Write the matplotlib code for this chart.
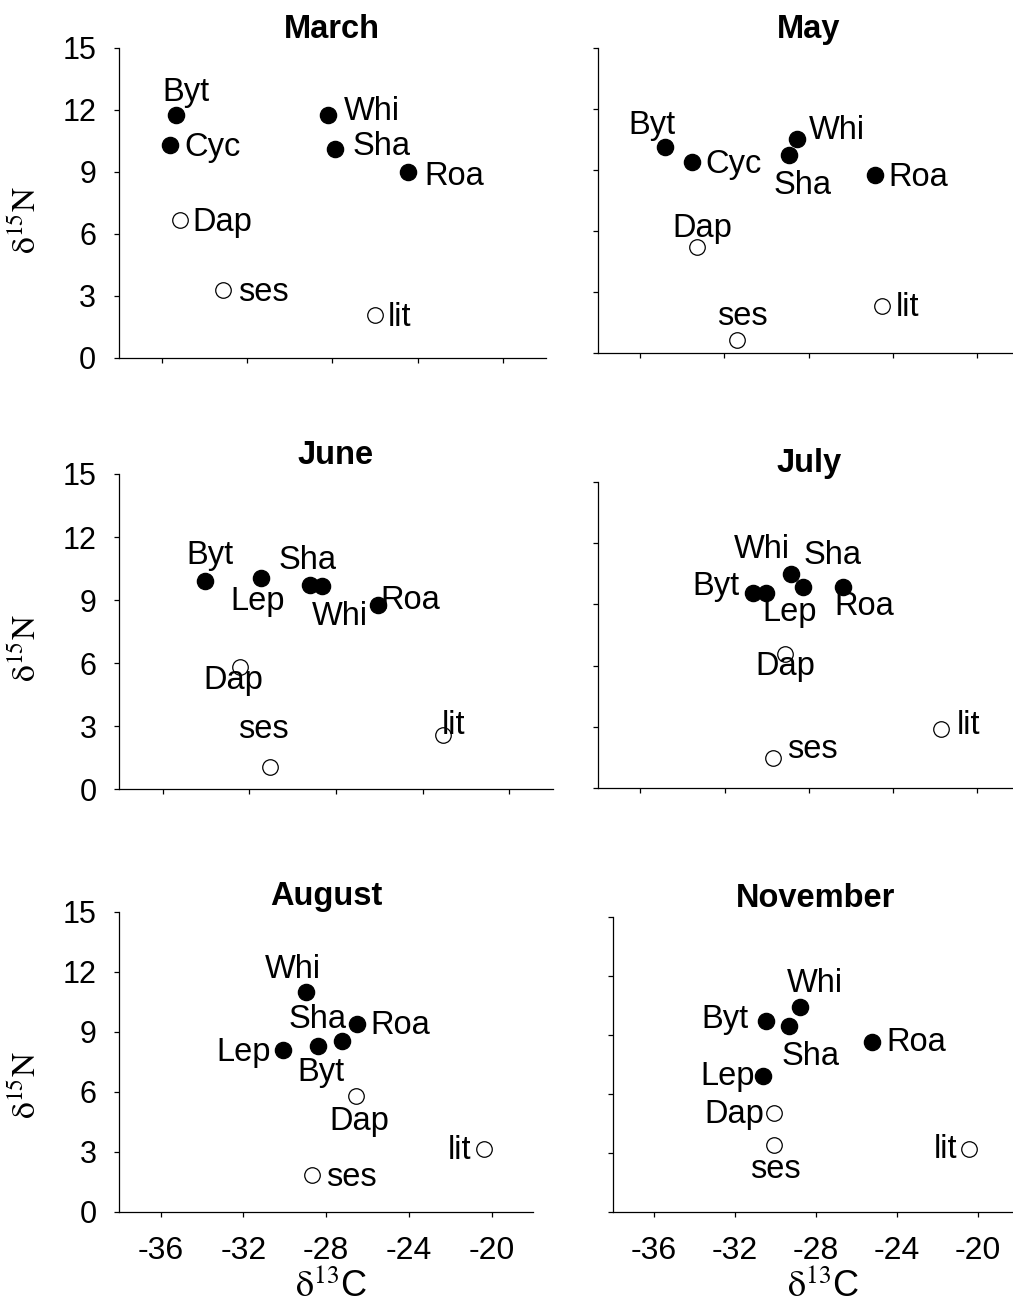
import matplotlib
matplotlib.use("Agg")
import matplotlib.pyplot as plt

plt.rcParams['font.family'] = ['Liberation Sans', 'DejaVu Sans']
plt.rcParams['mathtext.fontset'] = 'stix'
plt.rcParams['axes.unicode_minus'] = False

# open symbols = basal resources, filled = consumers
open_species = ["Dap", "ses", "lit"]

march_sp = ["Byt", "Cyc", "Whi", "Sha", "Roa", "Dap", "ses", "lit"]
march_c = [-35.34, -35.60, -28.19, -27.86, -24.47, -35.16, -33.13, -26.00]
march_n = [11.77, 10.32, 11.74, 10.08, 9.00, 6.67, 3.28, 2.08]

may_sp = ["Byt", "Cyc", "Whi", "Sha", "Roa", "Dap", "ses", "lit"]
may_c = [-34.81, -33.52, -28.53, -28.95, -24.85, -33.28, -31.38, -24.52]
may_n = [10.13, 9.41, 10.54, 9.75, 8.77, 5.23, 0.65, 2.33]

june_sp = ["Byt", "Lep", "Sha", "Whi", "Roa", "Dap", "ses", "lit"]
june_c = [-34.06, -31.46, -29.18, -28.64, -26.06, -32.45, -31.03, -23.08]
june_n = [9.91, 10.04, 9.72, 9.69, 8.77, 5.83, 1.05, 2.58]

july_sp = ["Byt", "Lep", "Whi", "Sha", "Roa", "Dap", "ses", "lit"]
july_c = [-30.65, -30.01, -28.83, -28.27, -26.37, -29.13, -29.69, -21.70]
july_n = [9.57, 9.54, 10.47, 9.86, 9.86, 6.57, 1.47, 2.88]

aug_sp = ["Whi", "Sha", "Roa", "Lep", "Byt", "Dap", "ses", "lit"]
aug_c = [-28.98, -27.25, -26.50, -30.07, -28.38, -26.56, -28.67, -20.36]
aug_n = [10.97, 8.55, 9.38, 8.08, 8.30, 5.78, 1.83, 3.12]

nov_sp = ["Byt", "Sha", "Whi", "Roa", "Lep", "Dap", "ses", "lit"]
nov_c = [-30.48, -29.30, -28.76, -25.22, -30.60, -30.07, -30.07, -20.44]
nov_n = [9.70, 9.46, 10.39, 8.61, 6.90, 5.00, 3.38, 3.17]

xticks = [-36, -32, -28, -24, -20]
yticks = [0, 3, 6, 9, 12, 15]

# label placement (pixel offsets, y up) for each point
offs = {
    "March": [(10, 25, 'center'), (14, 0, 'left'), (16, 6, 'left'), (17, 5, 'left'),
              (17, -2, 'left'), (13, 0, 'left'), (15, 0, 'left'), (13, 0, 'left')],
    "May": [(-13, 24, 'center'), (13, 0, 'left'), (12, 11, 'left'), (14, -28, 'center'),
            (14, 0, 'left'), (5, 21, 'center'), (5, 26, 'center'), (14, 1, 'left')],
    "June": [(5, 28, 'center'), (-3, -21, 'center'), (-3, 27, 'center'), (18, -28, 'center'),
             (2, 7, 'left'), (-6, -11, 'center'), (-7, 40, 'center'), (-1, 12, 'left')],
    "July": [(-13, 9, 'right'), (23, -17, 'center'), (-29, 27, 'center'), (30, 34, 'center'),
             (21, -17, 'center'), (0, -10, 'center'), (14, 11, 'left'), (15, 6, 'left')],
    "August": [(-13, 25, 'center'), (-24, 24, 'center'), (13, 1, 'left'), (-12, 0, 'right'),
               (3, -24, 'center'), (3, -23, 'center'), (14, 0, 'left'), (-13, 1, 'right')],
    "November": [(-17, 4, 'right'), (21, -28, 'center'), (15, 26, 'center'), (14, 2, 'left'),
                 (-8, 2, 'right'), (-10, 1, 'right'), (1, -22, 'center'), (-12, 2, 'right')],
}

W, H = 1013, 1307
# axes boxes in pixels: left, bottom(from top), width, height
boxes = {
    "March": (119, 358, 426.6, 310.3),
    "May": (598, 353.3, 421, 305.6),
    "June": (119.3, 789.3, 433.4, 315.3),
    "July": (598.3, 788.3, 420.8, 306.6),
    "August": (119.3, 1211.7, 413.8, 300),
    "November": (613.3, 1211.7, 405, 295),
}
panels = [("March", march_sp, march_c, march_n, 7),
          ("May", may_sp, may_c, may_n, 7),
          ("June", june_sp, june_c, june_n, 7.5),
          ("July", july_sp, july_c, july_n, 7),
          ("August", aug_sp, aug_c, aug_n, 3.5),
          ("November", nov_sp, nov_c, nov_n, 7)]

fig = plt.figure(figsize=(W / 100, H / 100), dpi=100)

for i, (name, sp, xc, yn, tpad) in enumerate(panels):
    l, b, w, h = boxes[name]
    ax = fig.add_axes([l / W, 1 - b / H, w / W, h / H])
    for s, x, y, (dx, dy, ha) in zip(sp, xc, yn, offs[name]):
        if s in open_species:
            ax.scatter(x, y, s=125, facecolor='white', edgecolor='black', linewidth=0.9, zorder=3)
        else:
            ax.scatter(x, y, s=135, color='black', zorder=3)
        ax.annotate(s, (x, y), xytext=(dx, dy - 11), textcoords='offset pixels',
                    ha=ha, va='baseline', fontsize=23.5, zorder=4)
    ax.set_xlim(-38, -18)
    ax.set_ylim(0, 15)
    ax.set_xticks(xticks)
    ax.set_yticks(yticks)
    for side in ['top', 'right']:
        ax.spines[side].set_visible(False)
    for side in ['left', 'bottom']:
        ax.spines[side].set_linewidth(0.9)
    ax.tick_params(direction='out', length=3.5, width=0.9, labelsize=22)
    ax.tick_params(axis='y', pad=13)
    ax.tick_params(axis='x', pad=14, labelsize=23)
    if i % 2 == 1:
        ax.tick_params(axis='y', labelleft=False)
    if i < 4:
        ax.tick_params(axis='x', labelbottom=False)
    ax.set_title(name, fontsize=23.5, fontweight='bold', pad=tpad)

# y axis labels (left column)
for yc in [220, 648, 1085]:
    fig.text(27 / W, 1 - yc / H, r'$\mathrm{\delta^{15}N}$', rotation=90,
             fontsize=24, ha='center', va='center')

# x axis labels (bottom row)
for xc in [331, 823]:
    fig.text(xc / W, 1 - 1297 / H, r'$\mathrm{\delta^{13}}$C', fontsize=26,
             ha='center', va='baseline')

plt.savefig("out.png", dpi=100)
